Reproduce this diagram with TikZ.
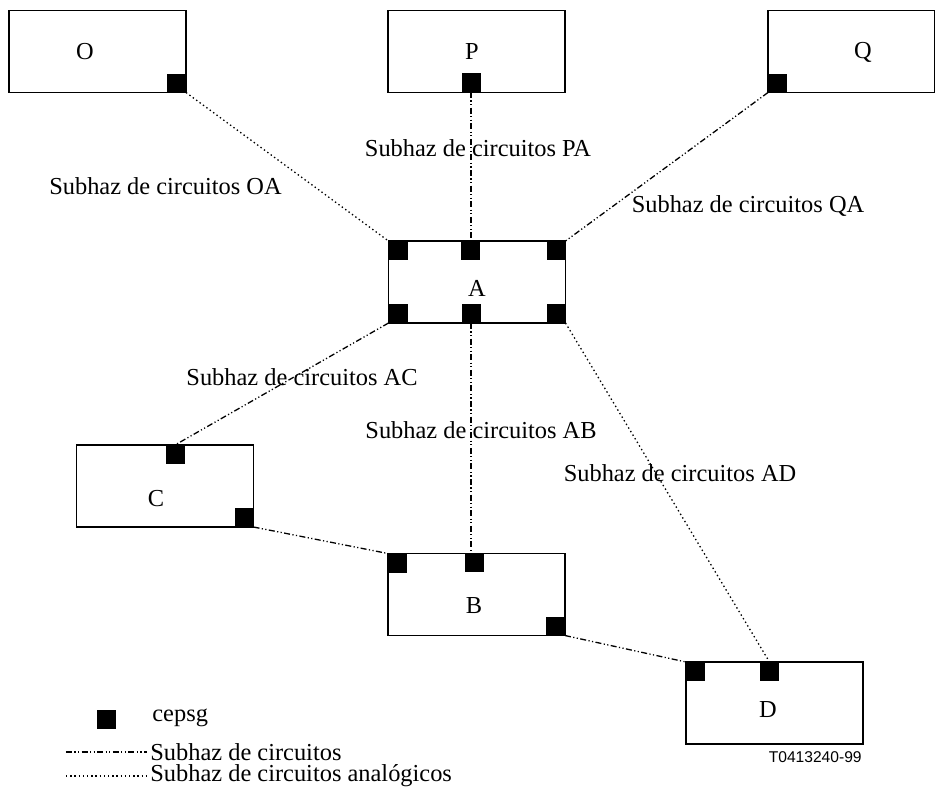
\documentclass[tikz,border=0pt]{standalone}
\usepackage{fontspec}
\setmainfont{Liberation Serif}
\newfontfamily\codefont{Liberation Sans}
\begin{document}
\begin{tikzpicture}[x=0.5pt,y=-0.5pt,
  box/.style={draw, line width=0.6pt, minimum width=88.5pt, minimum height=41pt, inner sep=0pt, outer sep=0pt},
  sq/.style={fill=black, draw=none, minimum size=9.5pt, inner sep=0pt, outer sep=0pt},
  lbl/.style={inner sep=0pt, font=\fontsize{12.2}{14}\selectfont},
  sub/.style={line width=0.65pt, dash pattern=on 3pt off 1.2pt on 0.6pt off 1.2pt on 0.6pt off 1.2pt},
  analog/.style={line width=0.65pt, dash pattern=on 0.7pt off 1.4pt}]
\useasboundingbox (0,0) rectangle (935,800);
\clip (0,0) rectangle (935,800);
% boxes
\node[box] (O) at (97.5,51.5) {};
\node[box] (P) at (476.5,51.5) {};
\node[box, minimum width=83.25pt] (Q) at (851.25,51.5) {};
\node[box] (A) at (477,282) {};
\node[box] (C) at (165,486) {};
\node[box] (B) at (476.5,594.5) {};
\node[box] (D) at (774.5,703) {};
% box labels
\node[lbl] (Ot) at (85,52) {O};
\node[lbl] (Pt) at (472,52) {P};
\node[lbl] (Qt) at (863,52) {Q};
\node[lbl] (At) at (477,288) {A};
\node[lbl] (Ct) at (156,499) {C};
\node[lbl] (Bt) at (474,606) {B};
\node[lbl] (Dt) at (768,710) {D};
% cepsg squares
\node[sq, anchor=south east] (Osq) at (O.south east) {};
\node[sq, anchor=south] (Psq) at (471,92) {};
\node[sq, anchor=south west] (Qsq) at (Q.south west) {};
\node[sq, anchor=north west] (Atl) at (A.north west) {};
\node[sq, anchor=north] (Atc) at (470,241) {};
\node[sq, anchor=north east] (Atr) at (A.north east) {};
\node[sq, anchor=south west] (Abl) at (A.south west) {};
\node[sq, anchor=south] (Abc) at (471,323) {};
\node[sq, anchor=south east] (Abr) at (A.south east) {};
\node[sq, anchor=north] (Csq) at (175,445) {};
\node[sq, anchor=south east] (Cbr) at (C.south east) {};
\node[sq, anchor=north west] (Btl) at (B.north west) {};
\node[sq, anchor=north] (Btc) at (474,553) {};
\node[sq, anchor=south east] (Bbr) at (B.south east) {};
\node[sq, anchor=north west] (Dtl) at (D.north west) {};
\node[sq, anchor=north] (Dtc) at (769.5,662) {};
% connectors
\draw[analog] (O.south east) -- (A.north west);
\draw[sub] (Psq.south) -- (Psq.south |- A.north);
\draw[sub] (Q.south west) -- (A.north east);
\draw[sub] (A.south west) -- (Csq.north);
\draw[sub] (Abc.south) -- (Abc.south |- B.north);
\draw[sub] (C.south east) -- (B.north west);
\draw[sub] (B.south east) -- (D.north west);
\draw[analog] (A.south east) -- (Dtc.north);
% connector labels
\node[lbl] (lOA) at (165.5,186) {Subhaz de circuitos OA};
\node[lbl] (lPA) at (478,148) {Subhaz de circuitos PA};
\node[lbl] (lQA) at (748,206) {Subhaz de circuitos QA};
\node[lbl] (lAC) at (302,377) {Subhaz de circuitos AC};
\node[lbl] (lAB) at (481,430) {Subhaz de circuitos AB};
\node[lbl] (lAD) at (680,473) {Subhaz de circuitos AD};
% legend
\node[sq] (legsq) at (106.5,719) {};
\node[lbl, anchor=west] (legt1) at (152,718) {cepsg};
\coordinate (l1a) at (66,752);
\coordinate (l1b) at (147,752);
\draw[sub] (l1a) -- (l1b);
\node[lbl, anchor=west] (legt2) at (150,752) {Subhaz de circuitos};
\coordinate (l2a) at (66,776);
\coordinate (l2b) at (147,776);
\draw[analog] (l2a) -- (l2b);
\node[lbl, anchor=west] (legt3) at (150,776) {Subhaz de circuitos analógicos};
\node[inner sep=0pt, anchor=east, font=\codefont\fontsize{7.8}{9}\selectfont] (code) at (862,757) {T0413240-99};
\end{tikzpicture}
\end{document}
